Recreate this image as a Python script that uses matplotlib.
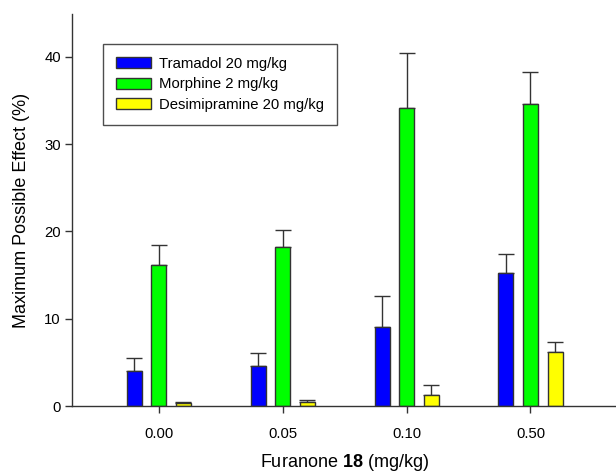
import numpy as np
import matplotlib
matplotlib.use('Agg')
import matplotlib.pyplot as plt

plt.rcParams['font.family'] = ['Liberation Sans', 'DejaVu Sans']
plt.rcParams['mathtext.fontset'] = 'custom'
plt.rcParams['mathtext.rm'] = 'Liberation Sans'
plt.rcParams['mathtext.bf'] = 'Liberation Sans:bold'

doses = ['0.00', '0.05', '0.10', '0.50']
series = ['Tramadol 20 mg/kg', 'Morphine 2 mg/kg', 'Desimipramine 20 mg/kg']
colors = ['#0000ff', '#00ff00', '#ffff00']

tramadol = [4.05, 4.6, 9.1, 15.2]
tramadol_err = [1.5, 1.5, 3.5, 2.2]
morphine = [16.1, 18.2, 34.1, 34.6]
morphine_err = [2.3, 2.0, 6.3, 3.6]
desimipramine = [0.3, 0.42, 1.26, 6.15]
desimipramine_err = [0.15, 0.25, 1.2, 1.15]

values = [tramadol, morphine, desimipramine]
errors = [tramadol_err, morphine_err, desimipramine_err]

fig = plt.figure(figsize=(6.16, 4.73), dpi=100)
ax = fig.add_axes([72 / 616, 1 - 406 / 473, 1 - 72 / 616, (406 - 14) / 473])

x = np.arange(len(doses))
w = 0.121
off = 0.198
for i, (vals, errs) in enumerate(zip(values, errors)):
    pos = x + (i - 1) * off
    ax.bar(pos, vals, w, color=colors[i], edgecolor='#333333', linewidth=1.0,
           label=series[i], zorder=2)
    ax.errorbar(pos, vals, yerr=[np.zeros(len(errs)), errs], fmt='none',
                ecolor='#333333', elinewidth=1.0, capsize=5.5, capthick=1.0,
                zorder=1)

ax.set_xlim(-0.70, 3.69)
ax.set_ylim(0, 44.9)
ax.set_xticks(x)
ax.set_xticklabels(doses, fontsize=10.7)
ax.set_yticks([0, 10, 20, 30, 40])
ax.tick_params(axis='y', labelsize=10.7, length=5, width=1, color='#333333', pad=3)
ax.tick_params(axis='x', length=5, width=1, color='#333333', pad=10)

ax.spines['top'].set_visible(False)
ax.spines['right'].set_visible(False)
for s in ['left', 'bottom']:
    ax.spines[s].set_color('#333333')
    ax.spines[s].set_linewidth(1.0)

ax.set_ylabel('Maximum Possible Effect (%)', fontsize=13, labelpad=10)
ax.set_xlabel(r'Furanone $\mathbf{18}$ (mg/kg)', fontsize=13, labelpad=8)

leg = ax.legend(loc='upper left', bbox_to_anchor=(31 / 544, 1 - 30 / 392),
                fontsize=10.7, frameon=True, fancybox=False, edgecolor='#222222',
                handlelength=2.35, handleheight=0.75, borderpad=0.85,
                labelspacing=0.45, handletextpad=0.6, borderaxespad=0)
leg.get_frame().set_linewidth(1.0)

fig.savefig('out.png', dpi=100)
